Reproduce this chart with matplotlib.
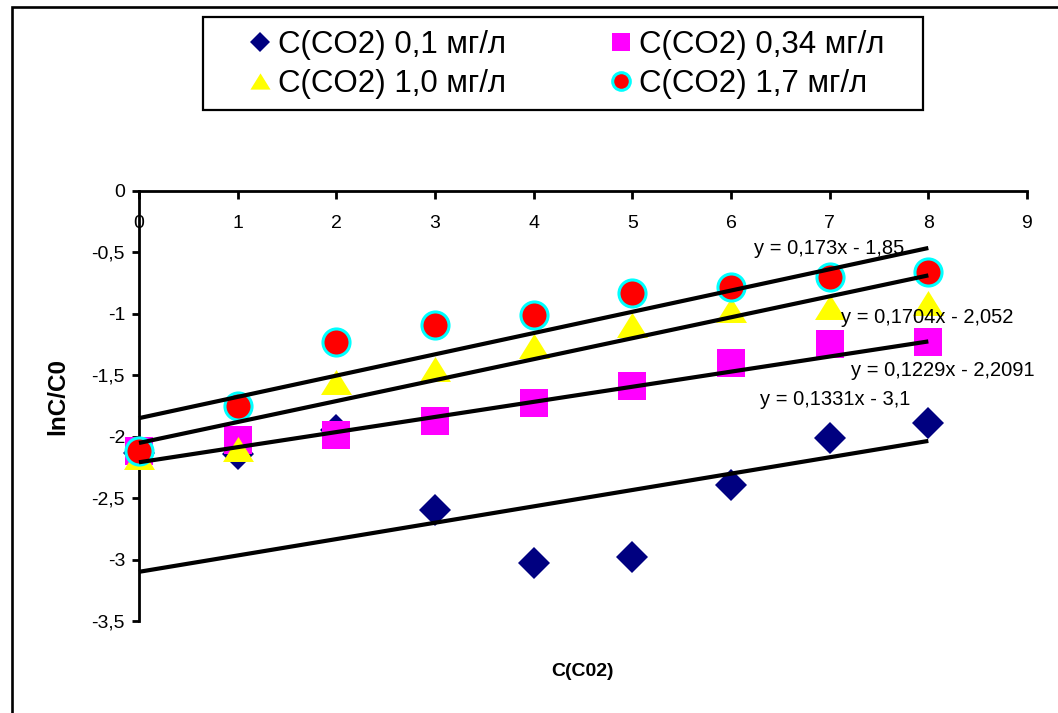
import numpy as np
import matplotlib
matplotlib.use('Agg')
import matplotlib.pyplot as plt
from matplotlib.patches import Rectangle

plt.rcParams['font.family'] = ['Liberation Sans', 'DejaVu Sans']

# ── data ────────────────────────────────────────────────────
x_vals = [0, 1, 2, 3, 4, 5, 6, 7, 8]

y_01  = [-2.13, -2.14, -1.95, -2.60, -3.03, -2.98, -2.39, -2.01, -1.89]   # 0,1 mg/l
y_034 = [-2.12, -2.03, -1.99, -1.87, -1.73, -1.59, -1.40, -1.25, -1.23]   # 0,34 mg/l
y_10  = [-2.17, -2.10, -1.56, -1.45, -1.26, -1.09, -0.97, -0.95, -0.91]   # 1,0 mg/l
y_17  = [-2.12, -1.75, -1.23, -1.09, -1.01, -0.83, -0.78, -0.70, -0.66]   # 1,7 mg/l

series_labels = ['C(CO2) 0,1 мг/л', 'C(CO2) 0,34 мг/л',
                 'C(CO2) 1,0 мг/л', 'C(CO2) 1,7 мг/л']

# trend lines as printed on the chart: slope, intercept, label
trend_slopes     = [0.173, 0.1704, 0.1229, 0.1331]
trend_intercepts = [-1.85, -2.052, -2.2091, -3.1]
trend_texts      = ['y = 0,173x - 1,85', 'y = 0,1704x - 2,052',
                    'y = 0,1229x - 2,2091', 'y = 0,1331x - 3,1']
trend_x          = [0, 8]
text_pos         = [(6.23, -0.47), (7.11, -1.03), (7.22, -1.46), (6.29, -1.70)]

xticks  = list(range(10))
yticks  = [0, -0.5, -1, -1.5, -2, -2.5, -3, -3.5]
ylabels = ['0', '-0,5', '-1', '-1,5', '-2', '-2,5', '-3', '-3,5']

W, H = 1058, 713

# ── figure ──────────────────────────────────────────────────
fig = plt.figure(figsize=(W / 100, H / 100), dpi=100)
fig.patch.set_facecolor('white')

# chart-area frame (only left and top edges fall inside the picture)
fig.patches.append(Rectangle((12 / W, -0.1), 1.2, 1.1 - 7 / H,
                             transform=fig.transFigure, fill=False,
                             edgecolor='black', lw=1.9, zorder=0))
# legend box
fig.patches.append(Rectangle((203 / W, 1 - 110 / H), 720 / W, 93 / H,
                             transform=fig.transFigure, fill=False,
                             edgecolor='black', lw=1.6, zorder=1))

ax = fig.add_axes([139 / W, 1 - 621 / H, 888 / W, 430.3 / H])
ax.set_facecolor('none')

tri = [(0, 0.806), (-1, -0.806), (1, -0.806)]
ax.plot(x_vals, y_01, ls='none', marker='D', ms=15.8, mfc='#000080', mec='#000080',
        mew=0, clip_on=False, zorder=3, label=series_labels[0])
ax.plot(x_vals, y_034, ls='none', marker='s', ms=20.5, mfc='#FF00FF', mec='#FF00FF',
        mew=0, clip_on=False, zorder=3, label=series_labels[1])
ax.plot(x_vals, y_10, ls='none', marker=tri, ms=22.3, mfc='#FFFF00', mec='#FFFF00',
        mew=0, clip_on=False, zorder=3, label=series_labels[2])
ax.plot(x_vals, y_17, ls='none', marker='o', ms=19.5, mfc='#FF0000', mec='#00FFFF',
        mew=2.2, clip_on=False, zorder=3, label=series_labels[3])

for k, b, txt, (tx, ty) in zip(trend_slopes, trend_intercepts, trend_texts, text_pos):
    xs = np.array(trend_x)
    ax.plot(xs, k * xs + b, color='black', lw=3, solid_capstyle='butt',
            clip_on=False, zorder=5)
    ax.text(tx, ty, txt, ha='left', va='center', fontsize=14.5, zorder=4)

ax.set_xlim(0, 9)
ax.set_ylim(-3.5, 0)

for s in ['right', 'bottom']:
    ax.spines[s].set_visible(False)
for s in ['left', 'top']:
    ax.spines[s].set_linewidth(2)

ax.xaxis.tick_top()
ax.set_xticks(xticks)
ax.tick_params(axis='x', direction='in', length=6, width=2, pad=-30, labelsize=14)
ax.set_yticks(yticks)
ax.set_yticklabels(ylabels)
ax.tick_params(axis='y', direction='out', length=5, width=2, pad=5, labelsize=14)

ax.set_xlabel('C(C02)', fontsize=14, fontweight='bold')
ax.xaxis.set_label_position('bottom')
ax.xaxis.set_label_coords(0.499, -0.118)
ax.xaxis.label.set_va('center')
ax.set_ylabel('lnC/C0', fontsize=17.5, fontweight='bold')
ax.yaxis.set_label_coords(-0.091, 1 - (397 - 190.7) / 430.3)
ax.yaxis.label.set_va('center')

handles, labels = ax.get_legend_handles_labels()
order = [0, 2, 1, 3]
leg = fig.legend([handles[i] for i in order], [labels[i] for i in order],
                 ncol=2, loc='upper left', bbox_to_anchor=(247 / W, 1 - 29.5 / H),
                 fontsize=22.5, markerscale=0.65, frameon=False,
                 borderpad=0, labelspacing=0.31,
                 handlelength=0.8, handletextpad=0.18, columnspacing=3.3,
                 borderaxespad=0)

fig.savefig('out.png', dpi=100, facecolor='white')
